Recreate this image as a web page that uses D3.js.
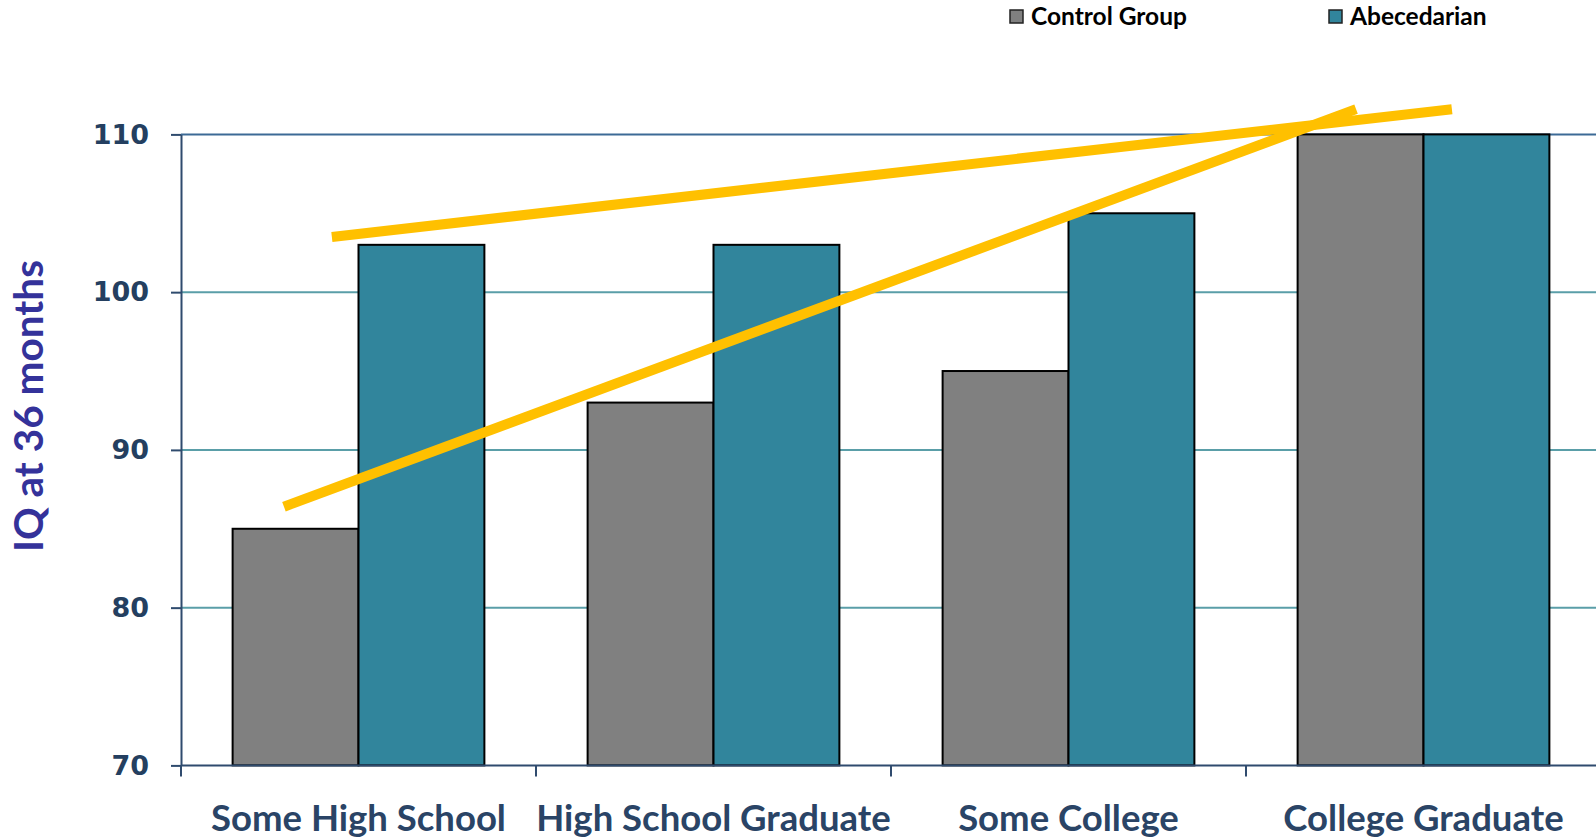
<!DOCTYPE html>
<html>
<head>
<meta charset="utf-8">
<script src="https://cdn.jsdelivr.net/npm/d3@7"></script>
<style>
  html, body { margin: 0; padding: 0; background: #ffffff; }
  svg { display: block; }
</style>
</head>
<body>
<svg id="chart" width="1596" height="840"></svg>
<script>
// Mother's education level
const categories = ["Some High School", "High School Graduate", "Some College", "College Graduate"];
const seriesNames = ["Control Group", "Abecedarian"];
const controlIQ = [85, 93, 95, 110];
const abecedarianIQ = [103, 103, 105, 110];
const yTicks = [70, 80, 90, 100, 110];

// Hand-drawn trend lines: position in category units (0 = first category centre), IQ value
const controlTrend = [{ pos: -0.21, iq: 86.4 }, { pos: 2.81, iq: 111.6 }];
const abecedarianTrend = [{ pos: -0.075, iq: 103.5 }, { pos: 3.08, iq: 111.6 }];

const colors = { "Control Group": "#808080", "Abecedarian": "#31859C" };

const svg = d3.select("#chart");
const plotLeft = 181, plotRight = 1601, plotTop = 134.4, plotBottom = 765.4;

const y = d3.scaleLinear().domain([70, 110]).range([plotBottom, plotTop]);
const x0 = d3.scaleBand().domain(categories).range([plotLeft, plotRight]).padding(0);
const x1 = d3.scaleBand().domain(seriesNames).range([0, x0.bandwidth()]).paddingInner(0).paddingOuter(0.41);
const xPos = d3.scaleLinear().domain([0, 1]).range([x0(categories[0]) + x0.bandwidth() / 2, x0(categories[1]) + x0.bandwidth() / 2]);

// Gridlines
svg.append("g")
  .selectAll("line")
  .data(yTicks.filter(t => t > 70))
  .join("line")
  .attr("x1", plotLeft).attr("x2", 1596)
  .attr("y1", d => y(d)).attr("y2", d => y(d))
  .attr("stroke", d => d === 110 ? "#3C6A96" : "#5A9EA8")
  .attr("stroke-width", 2);

// Bars
const rows = categories.map((c, i) => ({ cat: c, values: [
  { name: "Control Group", v: controlIQ[i] },
  { name: "Abecedarian", v: abecedarianIQ[i] }
]}));

svg.append("g")
  .selectAll("g")
  .data(rows)
  .join("g")
  .attr("transform", d => `translate(${x0(d.cat)},0)`)
  .selectAll("rect")
  .data(d => d.values)
  .join("rect")
  .attr("x", d => x1(d.name))
  .attr("width", x1.bandwidth())
  .attr("y", d => y(d.v))
  .attr("height", d => y(70) - y(d.v))
  .attr("fill", d => colors[d.name])
  .attr("stroke", "#000")
  .attr("stroke-width", 2);

// Y axis
const yAxis = svg.append("g")
  .attr("transform", `translate(${plotLeft},0)`)
  .call(d3.axisLeft(y).tickValues(yTicks).tickSize(10).tickPadding(22).tickSizeOuter(0));
yAxis.select(".domain").attr("stroke", "#2F4B6E").attr("stroke-width", 2);
yAxis.selectAll(".tick line").attr("stroke", "#2F4B6E").attr("stroke-width", 2);
yAxis.selectAll(".tick text")
  .attr("fill", "#243F60")
  .attr("font-family", "DejaVu Sans")
  .attr("font-weight", "bold")
  .attr("font-size", 27);

// X axis line with ticks at category boundaries
const xAxisG = svg.append("g");
xAxisG.append("line")
  .attr("x1", plotLeft).attr("x2", 1596)
  .attr("y1", y(70)).attr("y2", y(70))
  .attr("stroke", "#2F4B6E").attr("stroke-width", 2);
xAxisG.selectAll("line.tick")
  .data(categories)
  .join("line")
  .attr("class", "tick")
  .attr("x1", d => x0(d)).attr("x2", d => x0(d))
  .attr("y1", y(70)).attr("y2", y(70) + 11)
  .attr("stroke", "#2F4B6E").attr("stroke-width", 2);
xAxisG.selectAll("text")
  .data(categories)
  .join("text")
  .attr("x", d => x0(d) + x0.bandwidth() / 2)
  .attr("y", 831)
  .attr("text-anchor", "middle")
  .attr("fill", "#2A4466")
  .attr("font-family", "Lato")
  .attr("font-weight", "bold")
  .attr("font-size", 36.5)
  .text(d => d);

// Y axis title
svg.append("text")
  .attr("transform", `translate(43,406) rotate(-90)`)
  .attr("text-anchor", "middle")
  .attr("fill", "#34329A")
  .attr("font-family", "Lato")
  .attr("font-weight", "bold")
  .attr("font-size", 40.5)
  .text("IQ at 36 months");

// Trend lines
const line = d3.line().x(d => xPos(d.pos)).y(d => y(d.iq));
[controlTrend, abecedarianTrend].forEach(t => {
  svg.append("path")
    .attr("d", line(t))
    .attr("fill", "none")
    .attr("stroke", "#FFC000")
    .attr("stroke-width", 10)
    .attr("stroke-linecap", "butt");
});

// Legend
const legendX = [1010, 1329];
const legend = svg.append("g");
seriesNames.forEach((s, i) => {
  legend.append("rect")
    .attr("x", legendX[i]).attr("y", 10)
    .attr("width", 13).attr("height", 13)
    .attr("fill", colors[s])
    .attr("stroke", "#222").attr("stroke-width", 1.5);
  legend.append("text")
    .attr("x", legendX[i] + 21).attr("y", 25)
    .attr("fill", "#000")
    .attr("font-family", "Lato")
    .attr("font-weight", "bold")
    .attr("font-size", 24.5)
    .text(s);
});
</script>
</body>
</html>
